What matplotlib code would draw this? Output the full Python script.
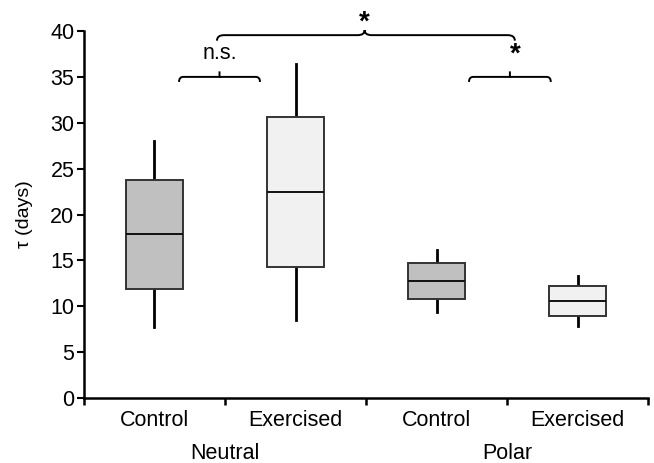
import matplotlib
matplotlib.use("Agg")
import matplotlib.pyplot as plt
from matplotlib.path import Path
from matplotlib.patches import PathPatch

plt.rcParams['font.family'] = ['Liberation Sans', 'DejaVu Sans']

groups = ["Neutral", "Polar"]
conditions = ["Control", "Exercised", "Control", "Exercised"]
whisker_low = [7.7, 8.5, 9.4, 7.85]
q1 = [11.9, 14.3, 10.75, 8.95]
median = [17.85, 22.45, 12.75, 10.6]
q3 = [23.8, 30.6, 14.75, 12.2]
whisker_high = [28.0, 36.4, 16.1, 13.3]
fills = ["#c0c0c0", "#f1f1f1", "#c0c0c0", "#f1f1f1"]

fig = plt.figure(figsize=(6.54, 4.63), dpi=100)
ax = fig.add_axes([0.1284, 0.1404, 0.8626, 0.7926])

positions = [0.5, 1.5, 2.5, 3.5]
stats = []
for i in range(4):
    stats.append(dict(med=median[i], q1=q1[i], q3=q3[i],
                      whislo=whisker_low[i], whishi=whisker_high[i], fliers=[]))
bp = ax.bxp(stats, positions=positions, widths=0.4, patch_artist=True,
            showcaps=False, showfliers=False,
            boxprops=dict(edgecolor="#333333", linewidth=1.4, zorder=3),
            medianprops=dict(color="#111111", linewidth=1.4, zorder=4),
            whiskerprops=dict(color="black", linewidth=2.0, zorder=1.5))
for patch, c in zip(bp['boxes'], fills):
    patch.set_facecolor(c)

ax.set_xlim(0, 4)
ax.set_ylim(0, 40)
ax.set_yticks(range(0, 41, 5))
ax.set_xticks([0, 1, 2, 3, 4])
ax.set_xticklabels([])
ax.set_xticks(positions, minor=True)
ax.set_xticklabels(conditions, minor=True)
ax.tick_params(axis='x', which='minor', length=0, pad=9, labelsize=15.5)
ax.tick_params(axis='x', which='major', length=5, width=1.8, direction='out')
ax.tick_params(axis='y', length=5, width=1.5, direction='out', labelsize=15.5, pad=2)
for s in ['top', 'right']:
    ax.spines[s].set_visible(False)
ax.spines['left'].set_linewidth(1.8)
ax.spines['bottom'].set_linewidth(1.8)
ax.set_ylabel("τ (days)", fontsize=14, labelpad=12)

for g, x in zip(groups, [1.0, 3.0]):
    ax.text(x, -0.15, g, transform=ax.get_xaxis_transform(), ha='center', va='center',
            fontsize=15.5)


def bracket(x0, x1, y, drop, notch, xc=None):
    if xc is None:
        xc = (x0 + x1) / 2
    r = 0.03
    verts = [(x0, y - drop), (x0, y), (x0 + r, y), (xc, y), (xc, y + notch)]
    codes = [Path.MOVETO, Path.CURVE3, Path.CURVE3, Path.LINETO, Path.LINETO]
    verts += [(xc, y), (x1 - r, y), (x1, y), (x1, y - drop)]
    codes += [Path.MOVETO, Path.LINETO, Path.CURVE3, Path.CURVE3]
    ax.add_patch(PathPatch(Path(verts, codes), fill=False, lw=1.4, color='black', clip_on=False))


def curly(x0, x1, y, drop, peak, xc):
    r = 0.05
    verts = [(x0, y - drop), (x0, y), (x0 + r, y), (xc - r, y), (xc, y), (xc, y + peak),
             (xc, y), (xc + r, y), (x1 - r, y), (x1, y), (x1, y - drop)]
    codes = [Path.MOVETO, Path.CURVE3, Path.CURVE3, Path.LINETO, Path.CURVE3, Path.CURVE3,
             Path.CURVE3, Path.CURVE3, Path.LINETO, Path.CURVE3, Path.CURVE3]
    ax.add_patch(PathPatch(Path(verts, codes), fill=False, lw=1.4, color='black', clip_on=False))


bracket(0.674, 1.248, 35.0, 0.55, 0.6)
ax.text(0.965, 37.6, "n.s.", ha='center', va='center', fontsize=15.5, clip_on=False)
bracket(2.73, 3.31, 35.0, 0.55, 0.6)
ax.text(3.06, 37.4, "*", ha='center', va='center', fontsize=20, fontweight='bold', clip_on=False)
curly(0.943, 3.055, 39.55, 0.6, 0.55, 1.99)
ax.text(1.99, 40.9, "*", ha='center', va='center', fontsize=20, fontweight='bold', clip_on=False)

fig.savefig("out.png", dpi=100)
